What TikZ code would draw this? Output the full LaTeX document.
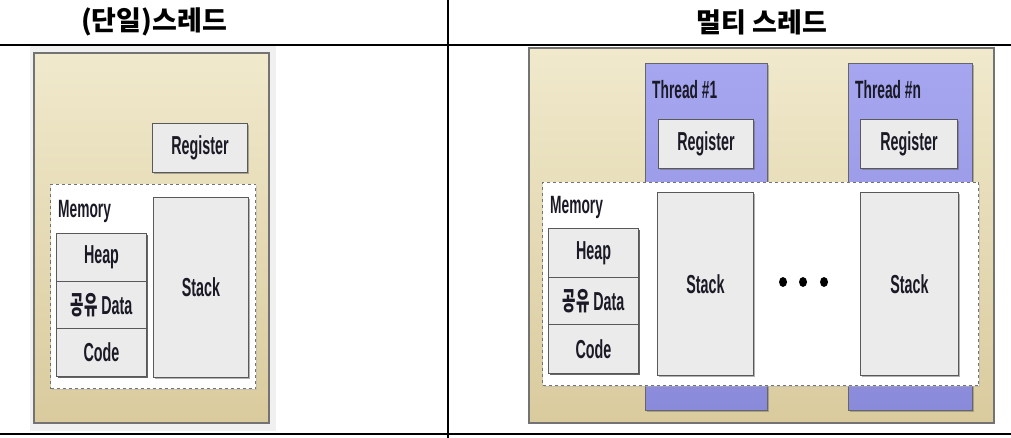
\documentclass[tikz,border=0pt]{standalone}
\usepackage{fontspec}
\setmainfont{Liberation Sans}
\newfontfamily\kr{Noto Sans CJK KR}
\newfontfamily\krc{Noto Sans CJK KR}[FakeStretch=0.56]
\newfontfamily\cond{Liberation Sans}[FakeStretch=0.55]
\usetikzlibrary{shadows,shapes.geometric}
\definecolor{beigelight}{HTML}{F0E9CC}
\definecolor{beigedark}{HTML}{DACB9E}
\definecolor{boxgray}{HTML}{EBEBEB}
\definecolor{purplelight}{HTML}{A6A6F0}
\definecolor{purpledark}{HTML}{8A8ADA}
\definecolor{txt}{HTML}{1A1A26}
\tikzset{
  frame/.style={anchor=north west, inner sep=0pt, draw=black!55, line width=1.6pt,
    top color=beigelight, bottom color=beigedark,
    drop shadow={shadow xshift=1.5pt, shadow yshift=-1.5pt, fill=black!45}},
  gbox/.style={anchor=north west, inner sep=0pt, draw=black!65, line width=1pt, fill=boxgray,
    font=\cond\bfseries\fontsize{26}{26}\selectfont, text=txt,
    drop shadow={shadow xshift=1.8pt, shadow yshift=-1.8pt, fill=black!60}},
  cell/.style={anchor=north west, inner sep=0pt, draw=black!65, line width=1pt, fill=boxgray,
    font=\cond\bfseries\fontsize{26}{26}\selectfont, text=txt},
  membox/.style={anchor=north west, inner sep=0pt, draw=black!55, dashed, line width=1pt, fill=white,
    drop shadow={shadow xshift=1.2pt, shadow yshift=-1.2pt, fill=black!30}},
  thread/.style={anchor=north west, inner sep=0pt, draw=black!60, line width=1.2pt,
    top color=purplelight, bottom color=purpledark,
    drop shadow={shadow xshift=1.8pt, shadow yshift=-1.8pt, fill=black!55}},
  lbl/.style={anchor=west, inner sep=0pt, font=\cond\bfseries\fontsize{25}{25}\selectfont, text=txt},
  head/.style={inner sep=0pt, font=\kr\bfseries\fontsize{27}{27}\selectfont, text=black},
  dot/.style={ellipse, fill=black, inner sep=0pt, minimum width=8pt, minimum height=10pt},
  rule/.style={line width=2pt, black}
}
\begin{document}
\begin{tikzpicture}[x=1pt,y=-1pt]
\useasboundingbox (0,0) rectangle (1011,438);
% header text
\node[head] (hL) at (154,22) {(단일)스레드};
\node[head] (hR) at (762,22) {멀티 스레드};
% left picture background
\fill[black!6] (30,46) rectangle (276,431);
% ---- left diagram ----
\node[frame, minimum width=235pt, minimum height=370pt] (frameL) at (33,52) {};
\node[gbox, minimum width=95pt, minimum height=49pt] (regL) at (152,123) {Register};
\node[membox, minimum width=205pt, minimum height=204pt] (memL) at (50,184) {};
\node[lbl] (memLbl) at (58,211) {Memory};
\node[gbox, minimum width=95pt, minimum height=180pt] (stackL) at (153,197) {Stack};
\fill[black!60] (58,235) rectangle (148,378);
\node[cell, minimum width=90pt, minimum height=48pt] (heapL) at (56,233) {Heap};
\node[cell, minimum width=90pt, minimum height=47pt] (dataL) at (56,281) {{\krc 공유} Data};
\node[cell, minimum width=90pt, minimum height=48pt] (codeL) at (56,328) {Code};
% ---- right diagram ----
\node[frame, minimum width=465pt, minimum height=375pt] (frameR) at (528,47) {};
\node[thread, minimum width=122pt, minimum height=347pt] (t1) at (645,63) {};
\node[thread, minimum width=124pt, minimum height=347pt] (tn) at (848,63) {};
\node[lbl] (t1lbl) at (652,90) {Thread \#1};
\node[lbl] (tnlbl) at (855,90) {Thread \#n};
\node[gbox, minimum width=95pt, minimum height=49pt] (reg1) at (658,119) {Register};
\node[gbox, minimum width=97pt, minimum height=49pt] (regn) at (860,119) {Register};
\node[membox, minimum width=436pt, minimum height=203pt] (memR) at (542,182) {};
\node[lbl] (memRlbl) at (550,207) {Memory};
\node[gbox, minimum width=96pt, minimum height=183pt] (stack1) at (657,192) {Stack};
\node[gbox, minimum width=98pt, minimum height=183pt] (stackn) at (860,192) {Stack};
\fill[black!60] (550,230) rectangle (640,375);
\node[cell, minimum width=90pt, minimum height=49pt] (heapR) at (548,228) {Heap};
\node[cell, minimum width=90pt, minimum height=47pt] (dataR) at (548,277) {{\krc 공유} Data};
\node[cell, minimum width=90pt, minimum height=49pt] (codeR) at (548,324) {Code};
\node[dot] (d1) at (783,282) {};
\node[dot] (d2) at (803,282) {};
\node[dot] (d3) at (824,282) {};
% ---- table rules ----
\draw[rule] (0,45) -- (1011,45);
\draw[rule] (0,434) -- (1011,434);
\draw[rule] (448,0) -- (448,438);
\end{tikzpicture}
\end{document}
